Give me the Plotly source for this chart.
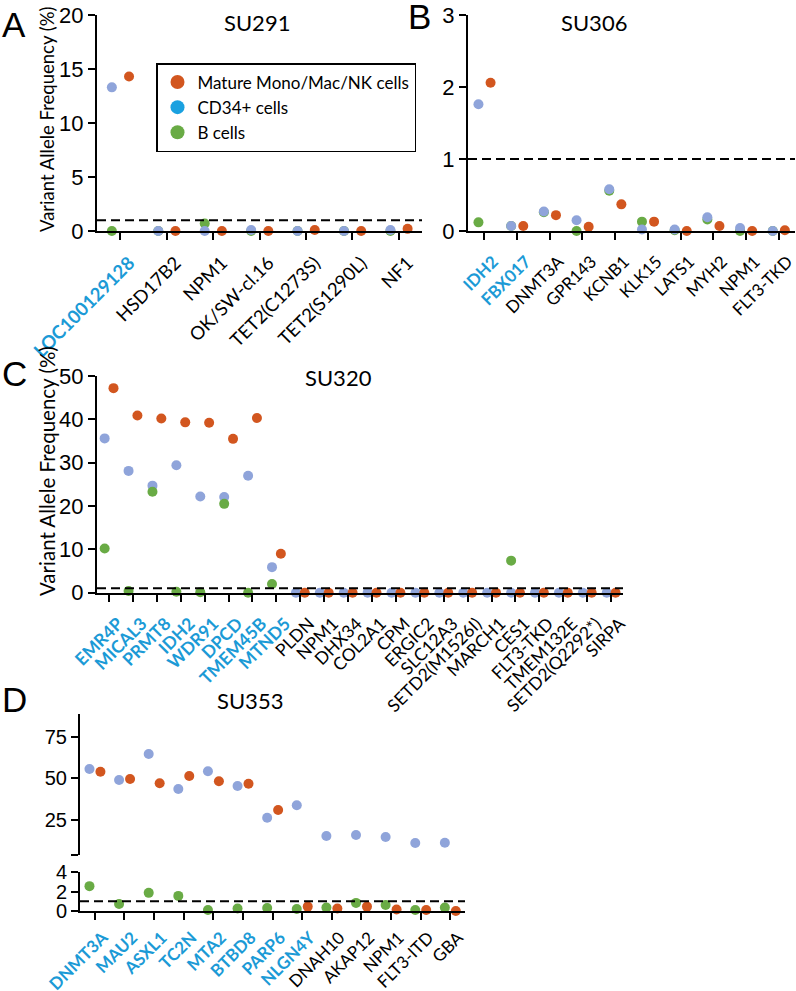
import plotly.graph_objects as go

W, H = 796, 991

ORANGE = "#d2561f"
BLUE = "#8fa4da"
GREEN = "#69ab45"
LABEL_BLUE = "#1b9ad6"
LEGEND_BLUE = "#1aa1e0"

# ---------------- data ----------------
# Panel A: SU291
a_genes = ["LOC100129128", "HSD17B2", "NPM1", "OK/SW-cl.16", "TET2(C1273S)", "TET2(S1290L)", "NF1"]
a_n_highlight = 1
a_mature = [14.3, 0.0, 0.0, 0.0, 0.1, 0.0, 0.2]
a_cd34 = [13.3, 0.0, 0.0, 0.1, 0.0, 0.0, 0.1]
a_bcell = [0.0, 0.0, 0.7, 0.0, 0.0, 0.0, 0.0]

# Panel B: SU306
b_genes = ["IDH2", "FBX017", "DNMT3A", "GPR143", "KCNB1", "KLK15", "LATS1", "MYH2", "NPM1", "FLT3-TKD"]
b_n_highlight = 2
b_mature = [2.06, 0.07, 0.22, 0.06, 0.37, 0.13, 0.0, 0.07, 0.0, 0.01]
b_cd34 = [1.76, 0.07, 0.27, 0.15, 0.58, 0.02, 0.02, 0.19, 0.04, 0.0]
b_bcell = [0.12, 0.07, 0.26, 0.0, 0.56, 0.13, 0.01, 0.16, 0.0, 0.0]

# Panel C: SU320
c_genes = ["EMR4P", "MICAL3", "PRMT8", "IDH2", "WDR91", "DPCD", "TMEM45B", "MTND5",
           "PLDN", "NPM1", "DHX34", "COL2A1", "CPM", "ERGIC2", "SLC12A3", "SETD2(M1526I)",
           "MARCH1", "CES1", "FLT3-TKD", "TMEM132E", "SETD2(Q2292*)", "SIRPA"]
c_n_highlight = 8
c_mature = [47.2, 40.9, 40.2, 39.3, 39.2, 35.5, 40.3, 9.0,
            0.0, 0.0, 0.0, 0.0, 0.0, 0.0, 0.0, 0.0, 0.0, 0.0, 0.0, 0.0, 0.0, 0.0]
c_cd34 = [35.6, 28.1, 24.7, 29.4, 22.2, 22.1, 27.0, 5.9,
          0.0, 0.0, 0.0, 0.0, 0.0, 0.0, 0.0, 0.0, 0.0, 0.0, 0.0, 0.0, 0.0, 0.0]
c_bcell = [10.2, 0.4, 23.3, 0.2, 0.1, 20.5, 0.0, 2.0,
           None, None, None, None, None, None, None, None, None, 7.4, None, None, None, None]

# Panel D: SU353
d_genes = ["DNMT3A", "MAU2", "ASXL1", "TC2N", "MTA2", "BTBD8", "PARP6", "NLGN4Y",
           "DNAH10", "AKAP12", "NPM1", "FLT3-ITD", "GBA"]
d_n_highlight = 8
d_mature = [54.0, 49.6, 47.0, 51.4, 48.2, 46.8, 31.0, 0.45, 0.25, 0.45, 0.15, 0.1, 0.0]
d_cd34 = [55.6, 49.0, 64.6, 43.6, 54.2, 45.4, 26.4, 33.8, 15.4, 16.0, 14.8, 11.2, 11.4]
d_bcell = [2.55, 0.72, 1.86, 1.55, 0.1, 0.25, 0.3, 0.2, 0.35, 0.83, 0.62, 0.1, 0.35]

# ---------------- helpers ----------------
OFF_L, OFF_R = -0.18, 0.19
MS = 10
LBL = "Lato"
NUM = "Liberation Sans"


def px_x(p):
    return p / W


def px_y(p):
    return 1 - p / H


def ticktext(genes, n_hl):
    out = []
    for i, g in enumerate(genes):
        if i < n_hl:
            out.append('<b><span style="color:%s">%s</span></b>' % (LABEL_BLUE, g))
        else:
            out.append(g)
    return out


def add_series(fig, xa, ya, values, off, color, lo=None, hi=None):
    xs, ys = [], []
    for i, v in enumerate(values):
        if v is None:
            continue
        if lo is not None and v < lo:
            continue
        if hi is not None and v >= hi:
            continue
        xs.append(i + off)
        ys.append(v)
    fig.add_trace(go.Scatter(x=xs, y=ys, mode="markers", xaxis=xa, yaxis=ya,
                             marker=dict(color=color, size=MS, line=dict(width=0)),
                             showlegend=False, cliponaxis=False, hoverinfo="y"))


fig = go.Figure()

# Panel A
add_series(fig, "x", "y", a_bcell, OFF_L, GREEN)
add_series(fig, "x", "y", a_cd34, OFF_L, BLUE)
add_series(fig, "x", "y", a_mature, OFF_R, ORANGE)
# Panel B
add_series(fig, "x2", "y2", b_bcell, OFF_L, GREEN)
add_series(fig, "x2", "y2", b_cd34, OFF_L, BLUE)
add_series(fig, "x2", "y2", b_mature, OFF_R, ORANGE)
# Panel C
add_series(fig, "x3", "y3", c_cd34, OFF_L, BLUE)
add_series(fig, "x3", "y3", c_bcell, OFF_L, GREEN)
add_series(fig, "x3", "y3", c_mature, OFF_R, ORANGE)
# Panel D (broken axis: lower 0-4 on x4/y4, upper on x5/y5)
D_BREAK = 4
add_series(fig, "x4", "y4", d_bcell, OFF_L, GREEN, hi=D_BREAK)
add_series(fig, "x4", "y4", d_cd34, OFF_L, BLUE, hi=D_BREAK)
add_series(fig, "x4", "y4", d_mature, OFF_R, ORANGE, hi=D_BREAK)
add_series(fig, "x5", "y5", d_bcell, OFF_L, GREEN, lo=D_BREAK)
add_series(fig, "x5", "y5", d_cd34, OFF_L, BLUE, lo=D_BREAK)
add_series(fig, "x5", "y5", d_mature, OFF_R, ORANGE, lo=D_BREAK)

# legend entries
for k, (name, col) in enumerate([("Mature Mono/Mac/NK cells", ORANGE), ("CD34+ cells", LEGEND_BLUE),
                                 ("B cells", GREEN)]):
    fig.add_trace(go.Scatter(x=[None], y=[None], mode="markers", name=name, legendgroup="g%d" % k,
                             marker=dict(color=col, size=14), xaxis="x", yaxis="y", showlegend=True))

axline = dict(showline=True, linecolor="black", linewidth=2, ticks="outside", ticklen=7,
              tickwidth=2, tickcolor="black", showgrid=False, zeroline=False, automargin=False)


def xax(dom, genes, n_hl, anchor, size, shift=9, standoff=5):
    d = dict(axline)
    d.update(domain=[px_x(dom[0]), px_x(dom[1])], range=[-0.5, len(genes) - 0.5],
             tickmode="array", tickvals=list(range(len(genes))), ticktext=ticktext(genes, n_hl),
             tickangle=-45, tickfont=dict(family=LBL, size=size, color="black"), anchor=anchor,
             ticklabelshift=shift, ticklabelstandoff=standoff, ticklabeloverflow="allow")
    return d


def yax(dom, rng, tickvals, anchor, ticktext_=None, size=22):
    d = dict(axline)
    d.update(domain=[px_y(dom[1]), px_y(dom[0])], range=rng, tickmode="array", tickvals=tickvals,
             tickfont=dict(family=NUM, size=size, color="black"), anchor=anchor)
    if ticktext_ is not None:
        d["ticktext"] = ticktext_
    return d


D_UPPER_RANGE = [4, 88.6]
layout = dict(
    width=W, height=H, margin=dict(l=0, r=0, t=0, b=0, autoexpand=False),
    plot_bgcolor="white", paper_bgcolor="white",
    xaxis=xax((97, 422), a_genes, a_n_highlight, "y", 18.5),
    yaxis=yax((15, 231), [0, 20], [0, 5, 10, 15, 20], "x"),
    xaxis2=xax((468, 795), b_genes, b_n_highlight, "y2", 17),
    yaxis2=yax((15, 231), [0, 3], [0, 1, 2, 3], "x2"),
    xaxis3=xax((97, 623), c_genes, c_n_highlight, "y3", 17.5),
    yaxis3=yax((376, 592.7), [0, 50], [0, 10, 20, 30, 40, 50], "x3"),
    xaxis4=xax((80, 465), d_genes, d_n_highlight, "y4", 17, shift=8, standoff=1),
    yaxis4=yax((872, 911), [0, 4], [0, 2, 4], "x4", size=20),
    xaxis5=dict(domain=[px_x(80), px_x(465)], range=[-0.5, len(d_genes) - 0.5], showline=False,
                showticklabels=False, ticks="", showgrid=False, zeroline=False, anchor="y5",
                automargin=False),
    yaxis5=yax((714, 855), D_UPPER_RANGE, [D_UPPER_RANGE[0], 25, 50, 75], "x5",
               ["", "25", "50", "75"], size=20),
    showlegend=True,
    legend=dict(x=px_x(156), y=px_y(63), xanchor="left", yanchor="top",
                bordercolor="black", borderwidth=1.5, bgcolor="white",
                font=dict(family=LBL, size=17, color="black"), itemsizing="trace",
                tracegroupgap=0),
)

shapes = []
for xr, yr in [("x", "y"), ("x2", "y2"), ("x3", "y3"), ("x4", "y4")]:
    shapes.append(dict(type="line", xref=xr + " domain", x0=0, x1=1, yref=yr, y0=1, y1=1,
                       line=dict(color="black", width=2, dash="9px,5px")))
layout["shapes"] = shapes

ann = []
for letter, x, y in [("A", 14, 25), ("B", 420, 17), ("C", 14, 374), ("D", 14, 699)]:
    ann.append(dict(text=letter, x=px_x(x), y=px_y(y), xref="paper", yref="paper", showarrow=False,
                    xanchor="center", yanchor="middle", font=dict(family=NUM, size=35, color="black")))
for title, x, y in [("SU291", 257, 22), ("SU306", 594, 22), ("SU320", 338, 378), ("SU353", 250, 700)]:
    ann.append(dict(text=title, x=px_x(x), y=px_y(y), xref="paper", yref="paper", showarrow=False,
                    xanchor="center", yanchor="middle", font=dict(family=LBL, size=22, color="black")))
for y, size in [(119, 18.5), (471, 20.5)]:
    ann.append(dict(text="Variant Allele Frequency (%)", x=px_x(47), y=px_y(y), xref="paper",
                    yref="paper", showarrow=False, textangle=-90, xanchor="center", yanchor="middle",
                    font=dict(family=LBL, size=size, color="black")))
layout["annotations"] = ann

fig.update_layout(**layout)
fig.write_html("out.html", config={"displayModeBar": False},
               post_script="document.body.style.margin='0';document.body.style.overflow='hidden';")
